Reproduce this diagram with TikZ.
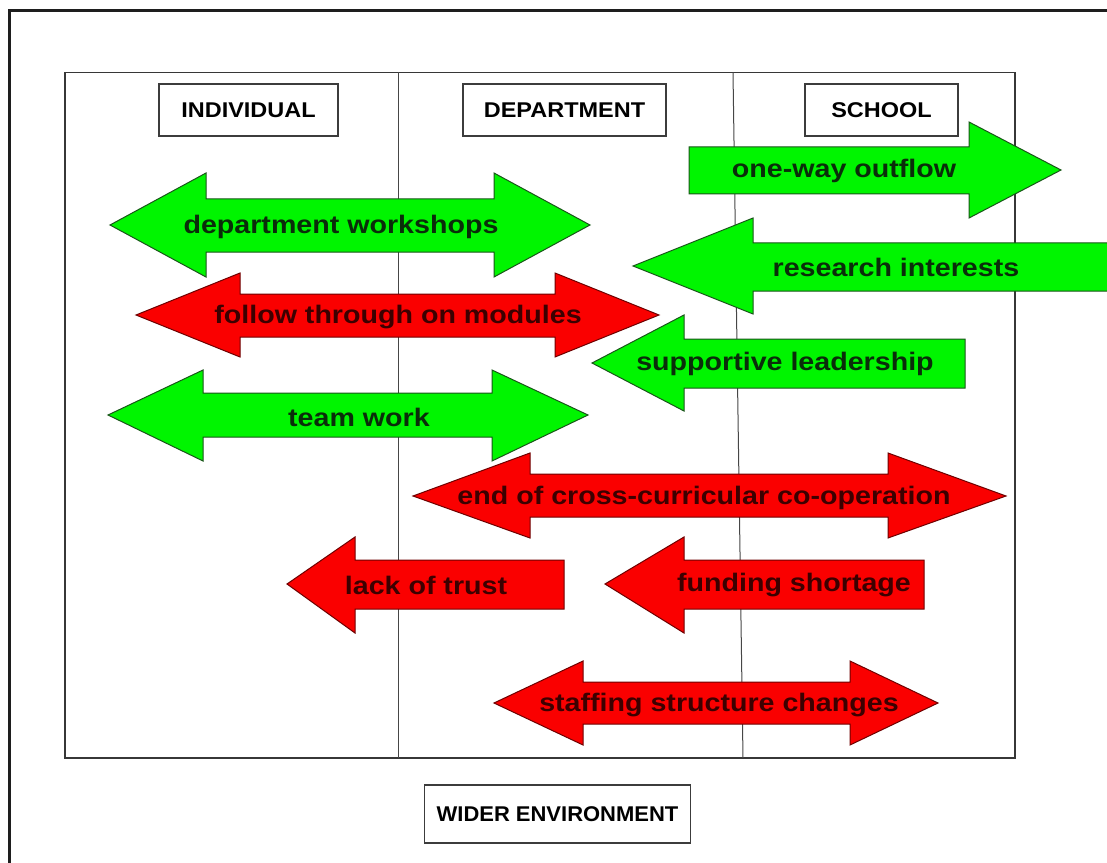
\documentclass[tikz,border=0pt]{standalone}
\usepackage{fontspec}
\newfontfamily\arrowfont[FakeStretch=1.13]{Liberation Sans}
\newfontfamily\levelfont[FakeStretch=1.1]{Liberation Sans}
\newfontfamily\widerfont[FakeStretch=1.03]{Liberation Sans}

\tikzset{every picture/.style={line width=0.75pt}}
\tikzset{
  greenarrow/.style={draw={rgb, 255:red, 25; green, 85; blue, 25 }, fill={rgb, 255:red, 0; green, 245; blue, 0 }, fill opacity=1},
  redarrow/.style={draw={rgb, 255:red, 110; green, 0; blue, 0 }, fill={rgb, 255:red, 250; green, 0; blue, 0 }, fill opacity=1},
  greentext/.style={text={rgb, 255:red, 10; green, 45; blue, 10 }, font=\arrowfont\bfseries\fontsize{19}{21}\selectfont},
  redtext/.style={text={rgb, 255:red, 60; green, 0; blue, 0 }, font=\arrowfont\bfseries\fontsize{19}{21}\selectfont},
  levelbox/.style={draw={rgb, 255:red, 60; green, 60; blue, 60 }, line width=1.1pt, fill=white, inner sep=0pt, font=\levelfont\bfseries\fontsize{16}{18}\selectfont}
}

\begin{document}
\begin{tikzpicture}[x=0.75pt,y=0.75pt,yscale=-1,xscale=1]
	\useasboundingbox (0,0) rectangle (1107,863);

	%Straight Lines [id:outer frame]
	\draw [line width=1.8pt, color={rgb, 255:red, 30; green, 30; blue, 30 }]  (9.5,863) -- (9.5,10.5) -- (1107,10.5) ;
	%Shape: Rectangle [id:levels]
	\draw [line width=1.1pt, color={rgb, 255:red, 55; green, 55; blue, 55 }]  (65,72.5) rectangle (1015,758) ;
	%Straight Lines [id:divider one]
	\draw [color={rgb, 255:red, 70; green, 70; blue, 70 }]  (398,72.5) -- (398,758) ;
	%Straight Lines [id:divider two]
	\draw [color={rgb, 255:red, 70; green, 70; blue, 70 }]  (733,72.5) -- (743,758) ;

	%Shape: Right Arrow [id:outflow]
	\draw [greenarrow]  (689,147) -- (969,147) -- (969,122) -- (1061,170) -- (969,218) -- (969,194) -- (689,194) -- cycle ;
	%Shape: Left-Right Arrow [id:workshops]
	\draw [greenarrow]  (110,225) -- (206,173) -- (206,199) -- (494,199) -- (494,173) -- (590,225) -- (494,277) -- (494,252) -- (206,252) -- (206,277) -- cycle ;
	%Shape: Left Arrow [id:research] (runs off the right edge)
	\fill [greenarrow, draw=none]  (633,266) -- (753,218) -- (753,243) -- (1107,243) -- (1107,291) -- (753,291) -- (753,314) -- cycle ;
	\draw [greenarrow, fill=none]  (1107,243) -- (753,243) -- (753,218) -- (633,266) -- (753,314) -- (753,291) -- (1107,291) ;
	%Shape: Left-Right Arrow [id:modules]
	\draw [redarrow]  (136,315) -- (240,273) -- (240,294) -- (555,294) -- (555,273) -- (659,315) -- (555,357) -- (555,337) -- (240,337) -- (240,357) -- cycle ;
	%Shape: Left Arrow [id:leadership]
	\draw [greenarrow]  (592,363) -- (684,315) -- (684,339) -- (965,339) -- (965,388) -- (684,388) -- (684,411) -- cycle ;
	%Shape: Left-Right Arrow [id:teamwork]
	\draw [greenarrow]  (108,415) -- (203,370) -- (203,393) -- (492,393) -- (492,370) -- (588,415) -- (492,461) -- (492,437) -- (203,437) -- (203,461) -- cycle ;
	%Shape: Left-Right Arrow [id:crosscurricular]
	\draw [redarrow]  (413,496) -- (530,453) -- (530,474) -- (888,474) -- (888,453) -- (1006,496) -- (888,538) -- (888,517) -- (530,517) -- (530,538) -- cycle ;
	%Shape: Left Arrow [id:trust]
	\draw [redarrow]  (287,584) -- (355,537) -- (355,560) -- (564,560) -- (564,609) -- (355,609) -- (355,633) -- cycle ;
	%Shape: Left Arrow [id:funding]
	\draw [redarrow]  (605,584) -- (684,537) -- (684,560) -- (924,560) -- (924,609) -- (684,609) -- (684,633) -- cycle ;
	%Shape: Left-Right Arrow [id:staffing]
	\draw [redarrow]  (494,703) -- (583,661) -- (583,682) -- (850,682) -- (850,661) -- (938,703) -- (850,745) -- (850,724) -- (583,724) -- (583,745) -- cycle ;

	% Text Node
	\draw (248.5,110) node (individual) [levelbox, minimum width=134.25pt, minimum height=39pt] {INDIVIDUAL};
	% Text Node
	\draw (564.5,110) node (department) [levelbox, minimum width=152.25pt, minimum height=39pt] {DEPARTMENT};
	% Text Node
	\draw (881.5,110) node (school) [levelbox, minimum width=114.75pt, minimum height=39pt] {SCHOOL};
	% Text Node
	\draw (557.5,814) node (wider) [levelbox, font=\widerfont\bfseries\fontsize{16}{18}\selectfont, minimum width=199.5pt, minimum height=43.5pt] {WIDER ENVIRONMENT};

	% Text Node
	\draw (844,171) node (outflowtext) [greentext] {one-way outflow};
	% Text Node
	\draw (341,227) node (workshopstext) [greentext] {department workshops};
	% Text Node
	\draw (896,267) node (researchtext) [greentext] {research interests};
	% Text Node
	\draw (398,317) node (modulestext) [redtext] {follow through on modules};
	% Text Node
	\draw (785,364) node (leadershiptext) [greentext] {supportive leadership};
	% Text Node
	\draw (359,417) node (teamworktext) [greentext] {team work};
	% Text Node
	\draw (704,498) node (crosstext) [redtext] {end of cross-curricular co-operation};
	% Text Node
	\draw (426,585) node (trusttext) [redtext] {lack of trust};
	% Text Node
	\draw (794,585) node (fundingtext) [redtext] {funding shortage};
	% Text Node
	\draw (719,705) node (staffingtext) [redtext] {staffing structure changes};

\end{tikzpicture}
\end{document}
